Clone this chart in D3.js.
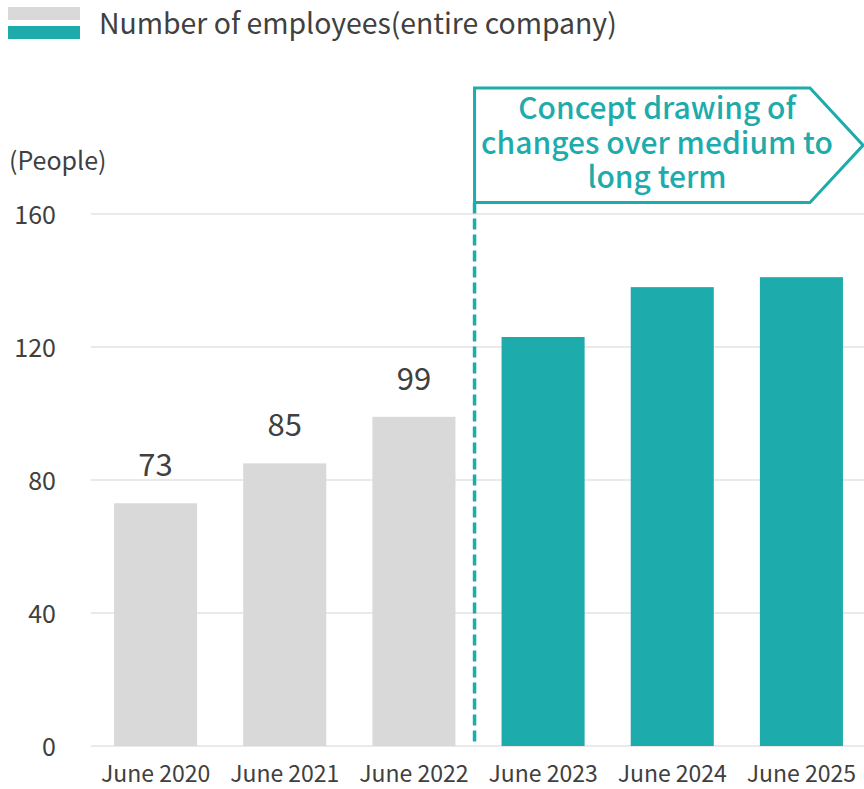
<!DOCTYPE html>
<html>
<head>
<meta charset="utf-8">
<script src="https://cdn.jsdelivr.net/npm/d3@7"></script>
<style>
  html, body { margin: 0; padding: 0; background: #ffffff; }
  svg { display: block; }
  text { font-family: "Noto Sans CJK JP", "Noto Sans", sans-serif; }
</style>
</head>
<body>
<svg id="chart" width="864" height="789"></svg>
<script>
// Headcount by fiscal period (actuals, then medium/long-term concept)
const categories = ["June 2020", "June 2021", "June 2022", "June 2023", "June 2024", "June 2025"];
const employees  = [73, 85, 99, 123, 138, 141];
const isActual   = [true, true, true, false, false, false];
const yTicks     = [0, 40, 80, 120, 160];
const legendLabel = "Number of employees(entire company)";
const unitLabel   = "(People)";
const conceptLines = ["Concept drawing of", "changes over medium to", "long term"];

const W = 864, H = 789;
const GRAY = "#d9d9d9", TEAL = "#1eabab", TEXT = "#404040", GRID = "#e3e3e3";

const svg = d3.select("#chart");

const x = d3.scaleBand().domain(categories).range([91, 866]).paddingInner(0.357).paddingOuter(0.1785);
const y = d3.scaleLinear().domain([0, 160]).range([746, 214]);

// gridlines
svg.append("g").selectAll("line").data(yTicks).join("line")
  .attr("x1", 91).attr("x2", W)
  .attr("y1", d => y(d)).attr("y2", d => y(d))
  .attr("stroke", GRID).attr("stroke-width", 1.6);

// y axis labels
const yAxis = svg.append("g").attr("transform", "translate(56,0)")
  .call(d3.axisLeft(y).tickValues(yTicks).tickSize(0).tickPadding(0));
yAxis.select(".domain").remove();
yAxis.selectAll("text").attr("font-size", 25).attr("fill", TEXT)
  .attr("font-family", "'Noto Sans CJK JP', sans-serif").attr("dy", "0.36em");

svg.append("text").attr("x", 9).attr("y", 170).attr("font-size", 25).attr("fill", TEXT).text(unitLabel);

// bars
svg.append("g").selectAll("rect").data(categories).join("rect")
  .attr("x", d => x(d)).attr("width", x.bandwidth())
  .attr("y", (d, i) => y(employees[i])).attr("height", (d, i) => y(0) - y(employees[i]))
  .attr("fill", (d, i) => isActual[i] ? GRAY : TEAL);

// value labels on actual bars
svg.append("g").selectAll("text").data(categories.filter((d, i) => isActual[i])).join("text")
  .attr("x", d => x(d) + x.bandwidth() / 2)
  .attr("y", (d, i) => y(employees[i]) - 27)
  .attr("text-anchor", "middle").attr("font-size", 31).attr("fill", TEXT)
  .text((d, i) => employees[i]);

// x axis labels
const xAxis = svg.append("g").attr("transform", `translate(0,${y(0)})`)
  .call(d3.axisBottom(x).tickSize(0).tickPadding(0));
xAxis.select(".domain").remove();
xAxis.selectAll("text").attr("font-size", 23).attr("fill", TEXT)
  .attr("font-family", "'Noto Sans CJK JP', sans-serif").attr("dy", "1.55em");

// divider between actuals and concept period
const divX = x(categories[3]) - 27;
const boxTop = 88, boxBottom = 202.5, boxRight = 810, tipX = 863;
svg.append("line")
  .attr("x1", divX).attr("x2", divX).attr("y1", boxBottom).attr("y2", y(0))
  .attr("stroke", TEAL).attr("stroke-width", 3.5).attr("stroke-dasharray", "11 5");

// arrow-shaped annotation box
svg.append("path")
  .attr("d", `M${divX},${boxTop} H${boxRight} L${tipX},${(boxTop + boxBottom) / 2} L${boxRight},${boxBottom} H${divX} Z`)
  .attr("fill", "#ffffff").attr("stroke", TEAL).attr("stroke-width", 3).attr("stroke-linejoin", "miter");

const cx = 657;
svg.append("text").attr("text-anchor", "middle").attr("fill", TEAL)
  .attr("font-size", 30).attr("font-weight", 500)
  .selectAll("tspan").data(conceptLines).join("tspan")
  .attr("x", cx).attr("y", (d, i) => 119 + i * 34.5).text(d => d);

// legend
svg.append("rect").attr("x", 8).attr("y", 7).attr("width", 72).attr("height", 13).attr("fill", GRAY);
svg.append("rect").attr("x", 8).attr("y", 26).attr("width", 72).attr("height", 13).attr("fill", TEAL);
svg.append("text").attr("x", 99).attr("y", 34).attr("font-size", 28.4).attr("fill", TEXT).text(legendLabel);
</script>
</body>
</html>
